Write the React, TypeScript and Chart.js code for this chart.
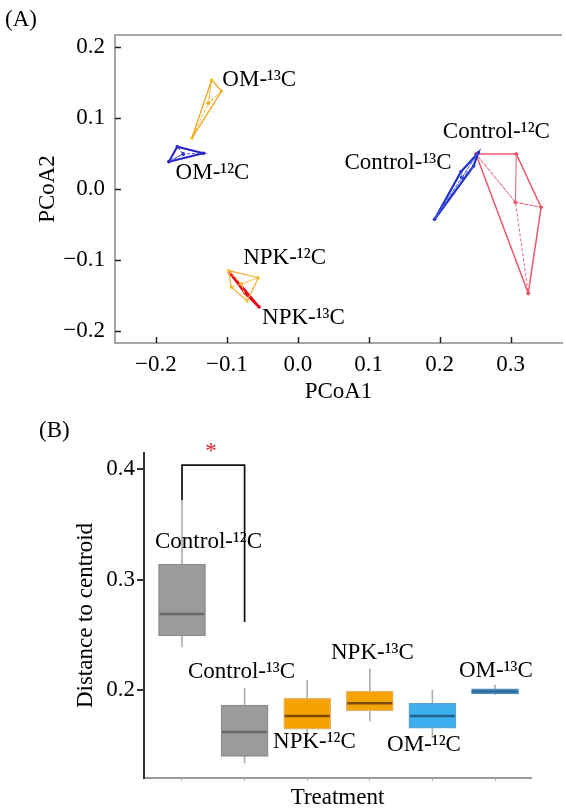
import React, { useEffect, useRef } from 'react';
import { Chart, registerables } from 'chart.js';

Chart.register(...registerables);

const FONT = '"Liberation Serif", "Times New Roman", serif';
const FS = 23;

// ---------- Panel A: PCoA ----------
const pcoaXTicks = [-0.2, -0.1, 0, 0.1, 0.2, 0.3];
const pcoaYTicks = [-0.2, -0.1, 0, 0.1, 0.2];
const pcoaGroups = ['OM-¹³C', 'OM-¹²C', 'NPK-¹²C', 'NPK-¹³C', 'Control-¹³C', 'Control-¹²C'];

const om13X = [-0.1214, -0.1074, -0.1494];
const om13Y = [0.1535, 0.138, 0.0714];
const om12X = [-0.1699, -0.1817, -0.1331];
const om12Y = [0.0596, 0.0385, 0.0503];
const npk12X = [-0.0976, -0.0556, -0.0714, -0.0938];
const npk12Y = [-0.1151, -0.1249, -0.1577, -0.138];
const npk13X = [-0.0966, -0.0742, -0.0546];
const npk13Y = [-0.1169, -0.1465, -0.1662];
const ctl13X = [0.2545, 0.2479, 0.1929, 0.2301];
const ctl13Y = [0.0511, 0.0324, -0.0427, 0.0244];
const ctl12X = [0.2511, 0.3081, 0.3431, 0.3249];
const ctl12Y = [0.0493, 0.0493, -0.0258, -0.1469];

const groupXs = [om13X, om12X, npk12X, npk13X, ctl13X, ctl12X];
const groupYs = [om13Y, om12Y, npk12Y, npk13Y, ctl13Y, ctl12Y];

// label anchors (left edge, vertical centre) in data units
const pcoaLabelX = [-0.1064, -0.1723, -0.077, -0.0504, 0.0658, 0.2045];
const pcoaLabelY = [0.1535, 0.0225, -0.0972, -0.1817, 0.0366, 0.0803];

// styles
const hullColors = ['#f2a51c', '#2424c4', '#f0b03c', '#e8061e', '#2233cc', '#ec5870'];
const hullWidths = [1.3, 2, 1.3, 2.6, 2.2, 1.5];
const spiderColors = ['#f3b234', '#4848d8', '#f3bf4c', '#e8061e', '#5566e0', '#e4647a'];
const pointColors = ['#f7cf30', '#1a1aa0', '#f8d22c', '#d60018', '#1a22b0', '#e03050'];

// ---------- Panel B: box plot ----------
const treatments = ['Control-¹²C', 'Control-¹³C', 'NPK-¹²C', 'NPK-¹³C', 'OM-¹²C', 'OM-¹³C'];
const whiskerLow = [0.239, 0.134, 0.158, 0.172, 0.1566, 0.196];
const q1 = [0.249, 0.14, 0.1647, 0.181, 0.1656, 0.1964];
const median = [0.2688, 0.162, 0.1765, 0.188, 0.1765, 0.1986];
const q3 = [0.314, 0.1864, 0.1928, 0.199, 0.188, 0.201];
const whiskerHigh = [0.372, 0.2018, 0.209, 0.219, 0.2, 0.2045];
const distTicks = [0.2, 0.3, 0.4];
const bracketX = [1, 1, 2, 2];
const bracketY = [0.372, 0.4035, 0.4035, 0.2615];

// label anchors (left edge, vertical centre) in data units
const boxLabelX = [0.569, 1.096, 2.454, 3.38, 4.275, 5.425];
const boxLabelY = [0.3339, 0.2163, 0.1529, 0.2335, 0.1502, 0.2172];
const starX = 1.463;
const starY = 0.419;

const boxFills = ['#9b9b9b', '#9b9b9b', '#f5a300', '#f5a300', '#3db1ef', '#4b8fc3'];
const boxBorders = ['#8e8e8e', '#8e8e8e', '#e6b460', '#e6b460', '#5aa2d6', '#4b8fc3'];
const medianColors = ['#686868', '#686868', '#7a4a05', '#7a4a05', '#24628e', '#2f6b98'];

const fmt = (v: number) => (v < -1e-9 ? '\u2212' : '') + Math.abs(v).toFixed(1);

function hull(pts: { x: number; y: number }[]) {
  const p = [...pts].sort((a, b) => a.x - b.x || a.y - b.y);
  const cross = (o: any, a: any, b: any) => (a.x - o.x) * (b.y - o.y) - (a.y - o.y) * (b.x - o.x);
  const lower: any[] = [];
  for (const q of p) {
    while (lower.length >= 2 && cross(lower[lower.length - 2], lower[lower.length - 1], q) <= 0) lower.pop();
    lower.push(q);
  }
  const upper: any[] = [];
  for (let i = p.length - 1; i >= 0; i--) {
    const q = p[i];
    while (upper.length >= 2 && cross(upper[upper.length - 2], upper[upper.length - 1], q) <= 0) upper.pop();
    upper.push(q);
  }
  const h = lower.slice(0, -1).concat(upper.slice(0, -1));
  return h.concat([h[0]]);
}

function buildA() {
  const datasets: any[] = [];
  groupXs.forEach((xs, g) => {
    const ys = groupYs[g];
    const pts = xs.map((x, i) => ({ x, y: ys[i] }));
    const c = {
      x: xs.reduce((s, v) => s + v, 0) / xs.length,
      y: ys.reduce((s, v) => s + v, 0) / ys.length,
    };
    const spider: any[] = [];
    pts.forEach((p) => {
      spider.push(c, p);
    });
    datasets.push({
      data: spider,
      showLine: true,
      borderColor: spiderColors[g],
      borderWidth: 1,
      borderDash: [3, 2],
      pointRadius: 0,
    });
    datasets.push({
      data: hull(pts),
      showLine: true,
      borderColor: hullColors[g],
      borderWidth: hullWidths[g],
      pointRadius: 0,
    });
    datasets.push({
      data: pts,
      pointRadius: 1.8,
      pointBackgroundColor: pointColors[g],
      pointBorderWidth: 0,
    });
    datasets.push({
      data: [c],
      pointRadius: 2,
      pointBackgroundColor: hullColors[g],
      pointBorderWidth: 0,
    });
  });

  const plugin = {
    id: 'panelA',
    afterDraw(chart: any) {
      const { ctx, chartArea, scales } = chart;
      const { left, right, top, bottom } = chartArea;
      const x = scales.x;
      const y = scales.y;
      ctx.save();
      ctx.strokeStyle = '#a6a6a6';
      ctx.lineWidth = 2;
      ctx.beginPath();
      ctx.moveTo(left - 1, top);
      ctx.lineTo(right, top);
      ctx.stroke();
      ctx.strokeStyle = '#222';
      ctx.lineWidth = 1.5;
      ctx.beginPath();
      pcoaXTicks.forEach((v) => {
        const px = Math.round(x.getPixelForValue(v)) + 0.5;
        ctx.moveTo(px, bottom);
        ctx.lineTo(px, bottom - 6);
      });
      pcoaYTicks.forEach((v) => {
        const py = Math.round(y.getPixelForValue(v)) + 0.5;
        ctx.moveTo(left, py);
        ctx.lineTo(left + 6, py);
      });
      ctx.stroke();
      ctx.fillStyle = '#000';
      ctx.font = `${FS}px ${FONT}`;
      ctx.textBaseline = 'middle';
      ctx.textAlign = 'left';
      pcoaGroups.forEach((name, i) => {
        ctx.fillText(name, x.getPixelForValue(pcoaLabelX[i]), y.getPixelForValue(pcoaLabelY[i]));
      });
      ctx.fillText('(A)', 5, 20);
      ctx.restore();
    },
  };

  return {
    type: 'scatter',
    data: { datasets },
    plugins: [plugin],
    options: {
      animation: false,
      responsive: false,
      layout: { padding: { top: 35, right: 1, left: 0, bottom: 0 } },
      plugins: { legend: { display: false }, tooltip: { enabled: false } },
      scales: {
        x: {
          type: 'linear',
          min: -0.2577,
          max: 0.3725,
          afterBuildTicks: (s: any) => {
            s.ticks = pcoaXTicks.map((v) => ({ value: v }));
          },
          afterFit: (s: any) => {
            s.height = 67;
          },
          ticks: { font: { family: FONT, size: FS }, color: '#000', padding: 8, maxRotation: 0, callback: (v: any) => fmt(Number(v)) },
          grid: { display: false, drawTicks: false },
          border: { color: '#a6a6a6', width: 2 },
          title: { display: true, text: 'PCoA1', color: '#000', font: { family: FONT, size: FS }, padding: { top: 0, bottom: 4 } },
        },
        y: {
          type: 'linear',
          min: -0.2169,
          max: 0.2169,
          afterBuildTicks: (s: any) => {
            s.ticks = pcoaYTicks.map((v) => ({ value: v }));
          },
          afterFit: (s: any) => {
            s.width = 115;
          },
          ticks: { font: { family: FONT, size: FS }, color: '#000', padding: 10, callback: (v: any) => fmt(Number(v)) },
          grid: { display: false, drawTicks: false },
          border: { color: '#a6a6a6', width: 2 },
          title: { display: true, text: 'PCoA2', color: '#000', font: { family: FONT, size: FS }, padding: { top: 34, bottom: 0 } },
        },
      },
    },
  };
}

function buildB() {
  const plugin = {
    id: 'panelB',
    afterDraw(chart: any) {
      const { ctx, scales } = chart;
      const x = scales.x;
      const y = scales.y;
      ctx.save();
      ctx.fillStyle = '#000';
      ctx.font = `${FS}px ${FONT}`;
      ctx.textBaseline = 'middle';
      ctx.textAlign = 'left';
      treatments.forEach((name, i) => {
        ctx.fillText(name, x.getPixelForValue(boxLabelX[i]), y.getPixelForValue(boxLabelY[i]));
      });
      ctx.fillText('(B)', 39, 21);
      ctx.fillStyle = '#e0202a';
      ctx.textAlign = 'center';
      ctx.fillText('*', x.getPixelForValue(starX), y.getPixelForValue(starY) + 4);
      ctx.restore();
    },
  };

  return {
    type: 'bar',
    data: {
      datasets: [
        {
          type: 'bar',
          data: treatments.map((_, i) => ({ x: i + 1, y: [whiskerLow[i], whiskerHigh[i]] })),
          backgroundColor: '#b0b0b0',
          barThickness: 1,
          grouped: false,
          order: 3,
        },
        {
          type: 'bar',
          data: treatments.map((_, i) => ({ x: i + 1, y: [q1[i], q3[i]] })),
          backgroundColor: boxFills,
          borderColor: boxBorders,
          borderWidth: 1.5,
          borderSkipped: false,
          barThickness: 47,
          grouped: false,
          order: 2,
        },
        {
          type: 'line',
          data: treatments.map((_, i) => ({ x: i + 1, y: median[i] })),
          showLine: false,
          pointStyle: 'line',
          pointRadius: 22.5,
          pointBorderWidth: 2.5,
          pointBorderColor: medianColors,
          pointBackgroundColor: medianColors,
          order: 1,
        },
        {
          type: 'line',
          data: bracketX.map((bx, i) => ({ x: bx, y: bracketY[i] })),
          borderColor: '#111',
          borderWidth: 1.7,
          pointRadius: 0,
          tension: 0,
          order: 0,
        },
      ],
    },
    plugins: [plugin],
    options: {
      animation: false,
      responsive: false,
      layout: { padding: { top: 43, right: 35, left: 0, bottom: 0 } },
      plugins: { legend: { display: false }, tooltip: { enabled: false } },
      scales: {
        x: {
          type: 'linear',
          min: 0.393,
          max: 6.575,
          offset: false,
          afterBuildTicks: (s: any) => {
            s.ticks = treatments.map((_, i) => ({ value: i + 1 }));
          },
          afterFit: (s: any) => {
            s.height = 34;
          },
          ticks: { display: false },
          grid: { display: true, drawOnChartArea: false, drawTicks: true, tickLength: 3, color: '#b5b5b5', offset: false },
          border: { color: '#9a9a9a', width: 2 },
          title: { display: true, text: 'Treatment', color: '#000', font: { family: FONT, size: FS }, padding: { top: 0, bottom: 0 } },
        },
        y: {
          type: 'linear',
          min: 0.1204,
          max: 0.4145,
          afterBuildTicks: (s: any) => {
            s.ticks = distTicks.map((v) => ({ value: v }));
          },
          afterFit: (s: any) => {
            s.width = 144;
          },
          ticks: { font: { family: FONT, size: FS }, color: '#000', padding: 2, callback: (v: any) => fmt(Number(v)) },
          grid: { display: true, drawOnChartArea: false, drawTicks: true, tickLength: 7, color: '#333', lineWidth: 2 },
          border: { color: '#333', width: 2 },
          title: { display: true, text: 'Distance to centroid', color: '#000', font: { family: FONT, size: FS }, padding: { top: 72, bottom: 0 } },
        },
      },
    },
  };
}

export default function App() {
  const refA = useRef<HTMLCanvasElement>(null);
  const refB = useRef<HTMLCanvasElement>(null);
  useEffect(() => {
    const a = new Chart(refA.current as HTMLCanvasElement, buildA() as any);
    const b = new Chart(refB.current as HTMLCanvasElement, buildB() as any);
    return () => {
      a.destroy();
      b.destroy();
    };
  }, []);
  return (
    <div style={{ position: 'absolute', left: 0, top: 0, width: 566, height: 810, background: '#fff', overflow: 'hidden' }}>
      <canvas ref={refA} width={566} height={410} style={{ position: 'absolute', left: 0, top: 0, display: 'block' }} />
      <canvas ref={refB} width={566} height={402} style={{ position: 'absolute', left: 0, top: 410, display: 'block' }} />
    </div>
  );
}
